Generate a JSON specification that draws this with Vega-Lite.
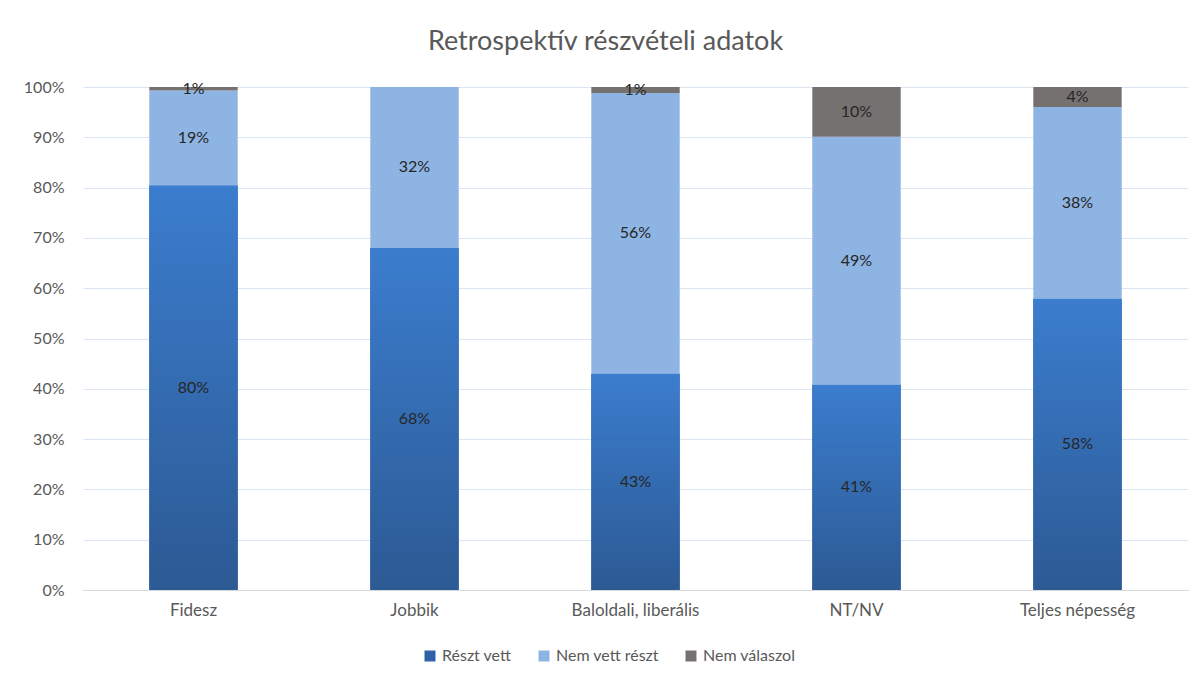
{
  "$schema": "https://vega.github.io/schema/vega-lite/v6.json",
  "width": 1105,
  "height": 503,
  "autosize": {"type": "none"},
  "padding": {"left": 83, "top": 87, "right": 15, "bottom": 94},
  "background": "#ffffff",
  "config": {"view": {"stroke": null}},
  "title": {
    "text": "Retrospektív részvételi adatok",
    "font": "Lato",
    "fontSize": 27,
    "fontWeight": "normal",
    "color": "#595959",
    "anchor": "middle",
    "dx": -30,
    "offset": 23
  },
  "data": {
    "values": [
      {"cat": "Fidesz", "series": "Részt vett", "order": 1, "value": 0.804},
      {"cat": "Fidesz", "series": "Nem vett részt", "order": 2, "value": 0.189},
      {"cat": "Fidesz", "series": "Nem válaszol", "order": 3, "value": 0.007},
      {"cat": "Jobbik", "series": "Részt vett", "order": 1, "value": 0.68},
      {"cat": "Jobbik", "series": "Nem vett részt", "order": 2, "value": 0.32},
      {"cat": "Jobbik", "series": "Nem válaszol", "order": 3, "value": 0},
      {"cat": "Baloldali, liberális", "series": "Részt vett", "order": 1, "value": 0.43},
      {"cat": "Baloldali, liberális", "series": "Nem vett részt", "order": 2, "value": 0.558},
      {"cat": "Baloldali, liberális", "series": "Nem válaszol", "order": 3, "value": 0.012},
      {"cat": "NT/NV", "series": "Részt vett", "order": 1, "value": 0.408},
      {"cat": "NT/NV", "series": "Nem vett részt", "order": 2, "value": 0.493},
      {"cat": "NT/NV", "series": "Nem válaszol", "order": 3, "value": 0.099},
      {"cat": "Teljes népesség", "series": "Részt vett", "order": 1, "value": 0.579},
      {"cat": "Teljes népesség", "series": "Nem vett részt", "order": 2, "value": 0.381},
      {"cat": "Teljes népesség", "series": "Nem válaszol", "order": 3, "value": 0.04}
    ]
  },
  "transform": [
    {"stack": "value", "groupby": ["cat"], "sort": [{"field": "order", "order": "ascending"}], "as": ["y0", "y1"]},
    {"calculate": "(datum.y0 + datum.y1) / 2", "as": "mid"}
  ],
  "encoding": {
    "x": {
      "field": "cat",
      "type": "nominal",
      "sort": ["Fidesz", "Jobbik", "Baloldali, liberális", "NT/NV", "Teljes népesség"],
      "scale": {"paddingInner": 0.6, "paddingOuter": 0.3},
      "axis": {
        "title": null,
        "labelAngle": 0,
        "labelFont": "Lato",
        "labelFontSize": 17,
        "labelColor": "#595959",
        "labelPadding": 12,
        "ticks": false,
        "domainColor": "#D9D9D9",
        "grid": false
      }
    }
  },
  "layer": [
    {
      "mark": {"type": "bar"},
      "encoding": {
        "y": {
          "field": "y0",
          "type": "quantitative",
          "scale": {"domain": [0, 1]},
          "axis": {
            "title": null,
            "format": ".0%",
            "values": [0, 0.1, 0.2, 0.3, 0.4, 0.5, 0.6, 0.7, 0.8, 0.9, 1],
            "labelFont": "Lato",
            "labelFontSize": 16,
            "labelColor": "#595959",
            "labelPadding": 19,
            "labelOverlap": false,
            "ticks": false,
            "domain": false,
            "gridColor": "#DCE6F2",
            "gridWidth": 1
          }
        },
        "y2": {"field": "y1"},
        "color": {
          "field": "series",
          "type": "nominal",
          "scale": {
            "domain": ["Részt vett", "Nem vett részt", "Nem válaszol"],
            "range": ["#2F62A6", "#8EB4E3", "#767171"]
          },
          "legend": {
            "title": null,
            "orient": "none",
            "direction": "horizontal",
            "legendX": 339,
            "legendY": 561,
            "symbolType": "square",
            "symbolSize": 121,
            "symbolStrokeWidth": 0,
            "labelFont": "Lato",
            "labelFontSize": 16,
            "labelColor": "#595959",
            "columnPadding": 24,
            "labelOffset": 4
          }
        }
      }
    },
    {
      "transform": [{"filter": "datum.series === 'Részt vett'"}],
      "mark": {
        "type": "bar",
        "fill": {
          "gradient": "linear",
          "x1": 0, "y1": 0, "x2": 0, "y2": 1,
          "stops": [
            {"offset": 0, "color": "#3B7DCE"},
            {"offset": 1, "color": "#2C5A94"}
          ]
        }
      },
      "encoding": {
        "y": {
          "field": "y0",
          "type": "quantitative",
          "axis": {
            "title": null,
            "format": ".0%",
            "values": [0, 0.1, 0.2, 0.3, 0.4, 0.5, 0.6, 0.7, 0.8, 0.9, 1],
            "labelFont": "Lato",
            "labelFontSize": 16,
            "labelColor": "#595959",
            "labelPadding": 19,
            "labelOverlap": false,
            "ticks": false,
            "domain": false,
            "gridColor": "#DCE6F2",
            "gridWidth": 1
          }
        },
        "y2": {"field": "y1"}
      }
    },
    {
      "transform": [{"filter": "datum.value > 0"}],
      "mark": {"type": "text", "font": "Lato", "fontSize": 16, "color": "#262626", "baseline": "middle"},
      "encoding": {
        "y": {
          "field": "mid",
          "type": "quantitative",
          "axis": {
            "title": null,
            "format": ".0%",
            "values": [0, 0.1, 0.2, 0.3, 0.4, 0.5, 0.6, 0.7, 0.8, 0.9, 1],
            "labelFont": "Lato",
            "labelFontSize": 16,
            "labelColor": "#595959",
            "labelPadding": 19,
            "labelOverlap": false,
            "ticks": false,
            "domain": false,
            "gridColor": "#DCE6F2",
            "gridWidth": 1
          }
        },
        "text": {"field": "value", "type": "quantitative", "format": ".0%"}
      }
    }
  ]
}
